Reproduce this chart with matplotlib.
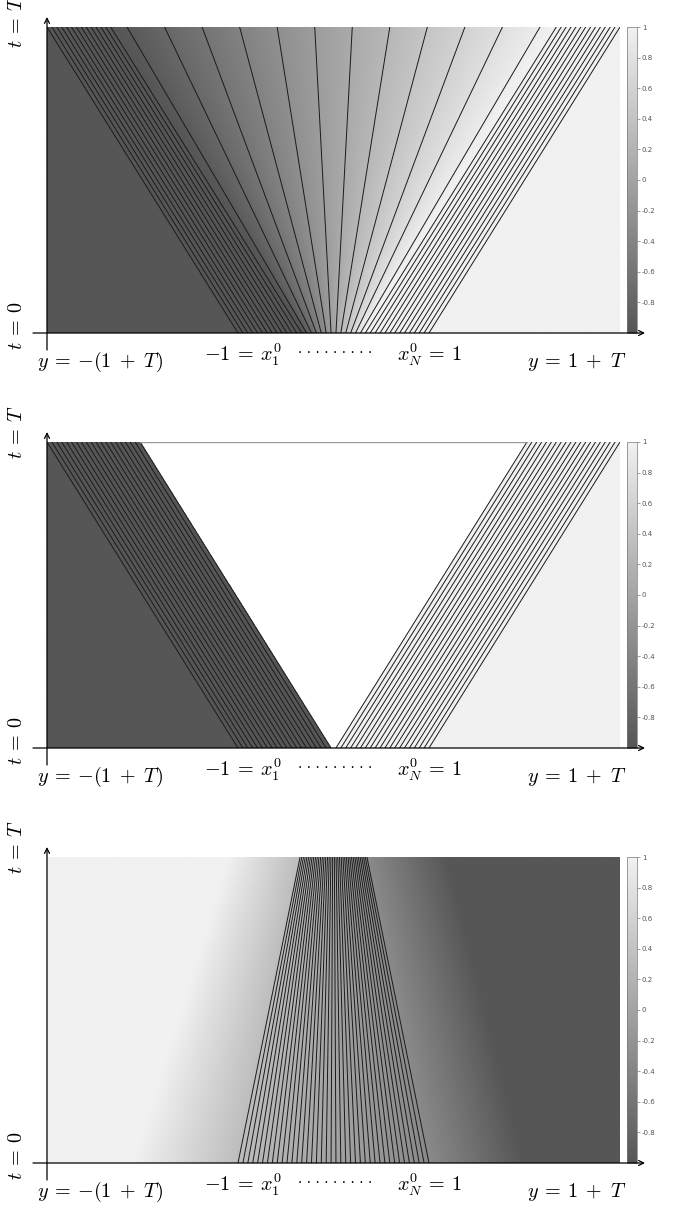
import numpy as np
import matplotlib
matplotlib.use("Agg")
import matplotlib.pyplot as plt
from matplotlib.colors import LinearSegmentedColormap

# ---- data ----
T = 2.0                      # final time
N = 40                       # number of particles x_1^0 ... x_N^0 on [-1, 1]
x_init = np.linspace(-1.0, 1.0, N)
ramp_width = 0.3             # panel 1: smoothed step, u0 = clip(x / 0.3)
compress_slope = 0.325       # panel 3: u0 = -0.325 x
band_left = [-2.1, 0.5]      # panel 3 shading: outer edge of left transition band (x at t=0, speed)
band_right = [2.0, -0.4]     # panel 3 shading: outer edge of right transition band
cbar_ticks = [1, 0.8, 0.6, 0.4, 0.2, 0, -0.2, -0.4, -0.6, -0.8]
cbar_labels = ["1", "0.8", "0.6", "0.4", "0.2", "0", "-0.2", "-0.4", "-0.6", "-0.8"]

plt.rcParams["mathtext.fontset"] = "cm"

W, H = 674, 1209
fig = plt.figure(figsize=(W / 100, H / 100), dpi=100)
cmap = LinearSegmentedColormap.from_list("g", ["#565656", "#f1f1f1"])
cmap.set_bad("white")

xs = np.linspace(-(1 + T), 1 + T, 700)
ts = np.linspace(0, T, 350)
X, TT = np.meshgrid(xs, ts)


def field(kind):
    if kind == 0:
        return np.clip(X / (ramp_width + TT), -1, 1), np.clip(x_init / ramp_width, -1, 1)
    if kind == 1:
        u0 = np.sign(x_init)
        xl = x_init[u0 < 0].max()
        xr = x_init[u0 > 0].min()
        U = np.full_like(X, np.nan)
        U[X <= xl - TT] = -1.0
        U[X >= xr + TT] = 1.0
        return U, u0
    a = compress_slope
    u0 = -a * x_init
    U = np.empty_like(X)
    for i, t in enumerate(ts):
        px = [band_left[0] + band_left[1] * t,
              x_init[0] + t * u0[0], x_init[-1] + t * u0[-1],
              band_right[0] + band_right[1] * t]
        pu = [1.0, u0[0], u0[-1], -1.0]
        U[i] = np.interp(xs, px, pu)
    return U, u0


bottoms = [333, 748, 1163]
ph = 306
xl_px, xr_px = 47, 620

over = fig.add_axes([0, 0, 1, 1], zorder=10)
over.set_xlim(0, W)
over.set_ylim(H, 0)
over.axis("off")
over.patch.set_alpha(0)

for k, bot in enumerate(bottoms):
    top = bot - ph
    ax = fig.add_axes([xl_px / W, 1 - bot / H, (xr_px - xl_px) / W, ph / H])
    U, u0 = field(k)
    im = ax.imshow(np.ma.masked_invalid(U), extent=[-(1 + T), 1 + T, 0, T], origin="lower",
                   aspect="auto", cmap=cmap, vmin=-1, vmax=1, interpolation="bilinear")
    for xi, ui in zip(x_init, u0):
        ax.plot([xi, xi + T * ui], [0, T], color="#1a1a1a", lw=0.7)
    if k == 1:
        ax.plot([x_init[u0 < 0].max() - T, x_init[u0 > 0].min() + T], [T, T],
                color="#999999", lw=1.0)
    ax.set_xlim(-(1 + T), 1 + T)
    ax.set_ylim(0, T)
    ax.axis("off")

    cax = fig.add_axes([627 / W, 1 - bot / H, 10 / W, ph / H])
    cb = fig.colorbar(im, cax=cax)
    cb.set_ticks(cbar_ticks)
    cb.set_ticklabels(cbar_labels)
    cb.ax.tick_params(labelsize=5, length=2, width=0.4, colors="#555555", pad=1.5)
    cb.outline.set_linewidth(0.5)
    cb.outline.set_edgecolor("#777777")

    # axes arrows
    over.annotate("", xy=(47, top - 10), xytext=(47, bot + 17),
                  arrowprops=dict(arrowstyle="->", lw=0.9, color="k", shrinkA=0, shrinkB=0,
                                  mutation_scale=9))
    over.annotate("", xy=(645, bot), xytext=(33, bot),
                  arrowprops=dict(arrowstyle="->", lw=0.9, color="k", shrinkA=0, shrinkB=0,
                                  mutation_scale=9))
    fs = 14.5
    over.text(16, max(top - 10, 21), r"$t\:=\:T$", rotation=90, ha="center", va="center", fontsize=fs)
    over.text(16, bot - 8, r"$t\:=\:0$", rotation=90, ha="center", va="center", fontsize=fs)
    over.text(100, bot + 29, r"$y\:=\:-(1\;+\;T)$", ha="center", va="center", fontsize=fs)
    over.text(243, bot + 22, r"$-1\:=\:x_1^0$", ha="center", va="center", fontsize=fs)
    over.text(335, bot + 20, "· · · · · · · · ·", ha="center", va="center", fontsize=10,
              family="DejaVu Serif")
    over.text(430, bot + 22, r"$x_N^0\:=\:1$", ha="center", va="center", fontsize=fs)
    over.text(577, bot + 29, r"$y\:=\:1\;+\;T$", ha="center", va="center", fontsize=fs)

fig.savefig("out.png", dpi=100)
